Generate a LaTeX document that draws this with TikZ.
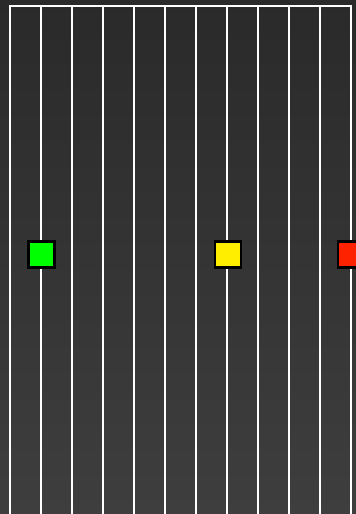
\documentclass[tikz,border=0pt]{standalone}
\usetikzlibrary{calc}
\definecolor{bgtop}{HTML}{2A2A2A}
\definecolor{bgbot}{HTML}{3E3E3E}
\definecolor{sqgreen}{HTML}{00FF00}
\definecolor{sqyellow}{HTML}{FFEE00}
\definecolor{sqred}{HTML}{FF2200}
\tikzset{
  gridline/.style={white, line width=2.4pt},
  marker/.style={draw=black, line width=2.5pt, minimum size=26pt, inner sep=0pt, outer sep=0pt},
}
\begin{document}
\begin{tikzpicture}[x=1pt,y=-1pt]
\useasboundingbox (0,0) rectangle (356,514);
\clip (0,0) rectangle (356,514);
\shade[top color=bgtop, bottom color=bgbot] (0,0) rectangle (356,514);
% top rail
\draw[gridline, line cap=rect] (10,6) -- (351,6);
% vertical lines
\foreach \i in {0,...,11} {
  \draw[gridline] (10+31*\i,6) -- (10+31*\i,520);
}
% markers
\node[marker, fill=sqgreen] (green) at (41.5,254.5) {};
\node[marker, fill=sqyellow] (yellow) at (228,254.5) {};
\node[marker, fill=sqred] (red) at (351,254.5) {};
\end{tikzpicture}
\end{document}
